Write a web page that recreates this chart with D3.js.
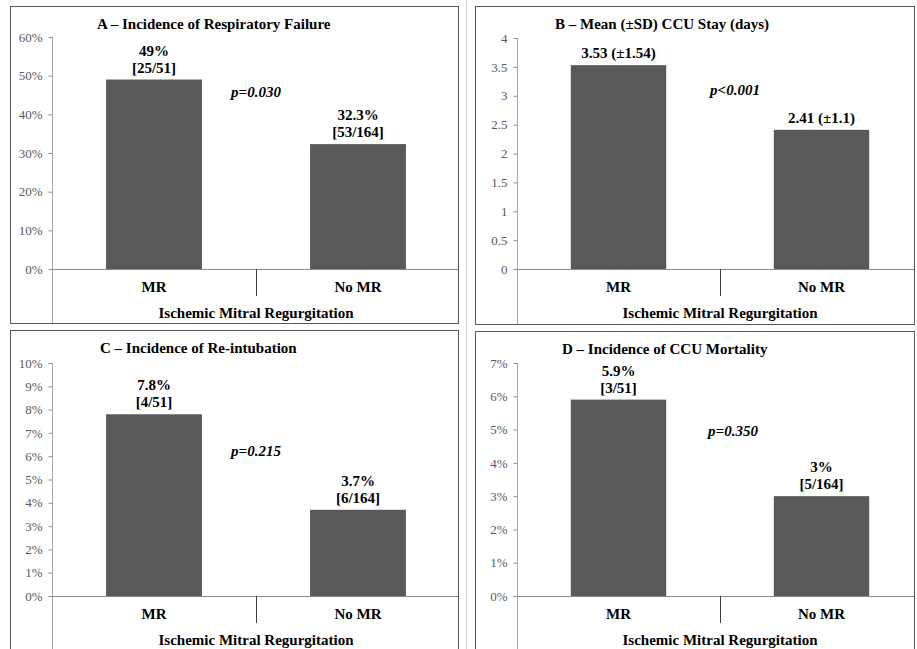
<!DOCTYPE html>
<html>
<head>
<meta charset="utf-8">
<script src="https://cdn.jsdelivr.net/npm/d3@7"></script>
<style>
  body { margin: 0; background: #fff; }
  svg text { font-family: "Liberation Serif", "Times New Roman", "DejaVu Serif", serif !important; }
  .tick text { fill: #595959; font-size: 13px; }
  .bold { font-weight: bold; font-size: 15px; fill: #000; }
</style>
</head>
<body>
<svg id="chart" width="917" height="649"></svg>
<script>
// data
const categories = ['MR', 'No MR'];
const axisTitle = 'Ischemic Mitral Regurgitation';

const titles = [
    'A \u2013 Incidence of Respiratory Failure',
    'B \u2013 Mean (\u00b1SD) CCU Stay (days)',
    'C \u2013 Incidence of Re-intubation',
    'D \u2013 Incidence of CCU Mortality'
];

const respFailure = [0.49, 0.323];
const respFailureLabels = [['49%', '[25/51]'], ['32.3%', '[53/164]']];

const ccuStay = [3.53, 2.41];
const ccuStayLabels = [['3.53 (\u00b11.54)'], ['2.41 (\u00b11.1)']];

const reintubation = [0.078, 0.037];
const reintubationLabels = [['7.8%', '[4/51]'], ['3.7%', '[6/164]']];

const mortality = [0.059, 0.03];
const mortalityLabels = [['5.9%', '[3/51]'], ['3%', '[5/164]']];

const pValues = ['p=0.030', 'p<0.001', 'p=0.215', 'p=0.350'];
// where the p text sits, in units of each y axis
const pValueLevels = [0.444, 3.01, 0.06, 0.048];

const ticksA = [0, 0.1, 0.2, 0.3, 0.4, 0.5, 0.6];
const ticksB = [0, 0.5, 1, 1.5, 2, 2.5, 3, 3.5, 4];
const ticksC = [0, 0.01, 0.02, 0.03, 0.04, 0.05, 0.06, 0.07, 0.08, 0.09, 0.1];
const ticksD = [0, 0.01, 0.02, 0.03, 0.04, 0.05, 0.06, 0.07];

// layout
const panels = [
    {values: respFailure, labels: respFailureLabels, ticks: ticksA, fmt: d3.format('.0%'),
     box: [10, 6, 448, 317], plot: [52, 460, 37, 269], titleX: 97, pDx: 0},
    {values: ccuStay, labels: ccuStayLabels, ticks: ticksB, fmt: d => d,
     box: [475, 6, 439, 318], plot: [517, 923, 38, 269], titleX: 555, pDx: 15},
    {values: reintubation, labels: reintubationLabels, ticks: ticksC, fmt: d3.format('.0%'),
     box: [10, 330, 448, 330], plot: [52, 460, 363, 596], titleX: 100, pDx: 0},
    {values: mortality, labels: mortalityLabels, ticks: ticksD, fmt: d3.format('.0%'),
     box: [475, 331, 439, 330], plot: [517, 923, 363, 596], titleX: 562, pDx: 13}
];

const svg = d3.select('#chart');

// faint line between the columns of panels
svg.append('line')
    .attr('x1', 466.5).attr('x2', 466.5)
    .attr('y1', 0).attr('y2', 649)
    .attr('stroke', '#cfcfcf');

panels.forEach((p, i) => drawPanel(p, i));

function drawPanel(p, i) {
    const [bx, by, bw, bh] = p.box;
    const [left, right, top, bottom] = p.plot;
    const boxRight = bx + bw;

    const g = svg.append('g');

    g.append('rect')
        .attr('x', bx + 0.5).attr('y', by + 0.5)
        .attr('width', bw).attr('height', bh)
        .attr('fill', 'none')
        .attr('stroke', '#595959');

    const xScale = d3.scaleBand()
        .domain(categories)
        .range([left, right]);
    const yScale = d3.scaleLinear()
        .domain([0, d3.max(p.ticks)])
        .range([bottom, top]);

    // y axis
    const yAxis = d3.axisLeft(yScale)
        .tickValues(p.ticks)
        .tickFormat(p.fmt)
        .tickSize(4)
        .tickPadding(6);
    const ya = g.append('g')
        .attr('transform', `translate(${left + 0.5}, 0)`)
        .call(yAxis)
        .attr('font-family', null)
        .attr('font-size', null);
    ya.select('.domain').remove();
    ya.selectAll('.tick line').attr('stroke', '#8c8c8c');
    // axis line runs down through the category area
    g.append('line')
        .attr('x1', left + 0.5).attr('x2', left + 0.5)
        .attr('y1', top).attr('y2', by + bh)
        .attr('stroke', '#a6a6a6');

    // bars
    const barW = xScale.bandwidth() * 0.47;
    g.selectAll('rect.bar')
        .data(p.values)
        .enter()
        .append('rect')
            .classed('bar', true)
            .attr('x', (d, idx) => xScale(categories[idx]) + (xScale.bandwidth() - barW) / 2)
            .attr('width', barW)
            .attr('y', d => yScale(d))
            .attr('height', d => bottom - yScale(d))
            .attr('fill', '#595959');

    // x axis line and category divider
    g.append('line')
        .attr('x1', left).attr('x2', Math.min(right, boxRight))
        .attr('y1', bottom + 0.5).attr('y2', bottom + 0.5)
        .attr('stroke', '#8c8c8c');
    g.append('line')
        .attr('x1', xScale('No MR') + 0.5).attr('x2', xScale('No MR') + 0.5)
        .attr('y1', bottom).attr('y2', bottom + 27)
        .attr('stroke', '#404040');

    // category labels
    g.selectAll('text.cat')
        .data(categories)
        .enter()
        .append('text')
            .attr('class', 'cat bold')
            .attr('x', d => xScale(d) + xScale.bandwidth() / 2)
            .attr('y', bottom + 23)
            .attr('text-anchor', 'middle')
            .text(d => d);

    g.append('text')
        .attr('class', 'bold')
        .attr('x', (left + right) / 2)
        .attr('y', bottom + 49)
        .attr('text-anchor', 'middle')
        .text(axisTitle);

    // title
    g.append('text')
        .attr('class', 'bold')
        .attr('x', p.titleX)
        .attr('y', by + 23)
        .text(titles[i]);

    // value labels above bars
    p.values.forEach((v, idx) => {
        const lines = p.labels[idx];
        const cx = xScale(categories[idx]) + xScale.bandwidth() / 2;
        const t = g.append('text')
            .attr('class', 'bold')
            .attr('text-anchor', 'middle');
        lines.forEach((line, k) => {
            t.append('tspan')
                .attr('x', cx)
                .attr('y', yScale(v) - 7 - (lines.length - 1 - k) * 17)
                .text(line);
        });
    });

    // p value
    g.append('text')
        .attr('class', 'bold')
        .attr('font-style', 'italic')
        .attr('x', xScale('No MR') + p.pDx)
        .attr('y', yScale(pValueLevels[i]))
        .attr('text-anchor', 'middle')
        .text(pValues[i]);
}
</script>
</body>
</html>
